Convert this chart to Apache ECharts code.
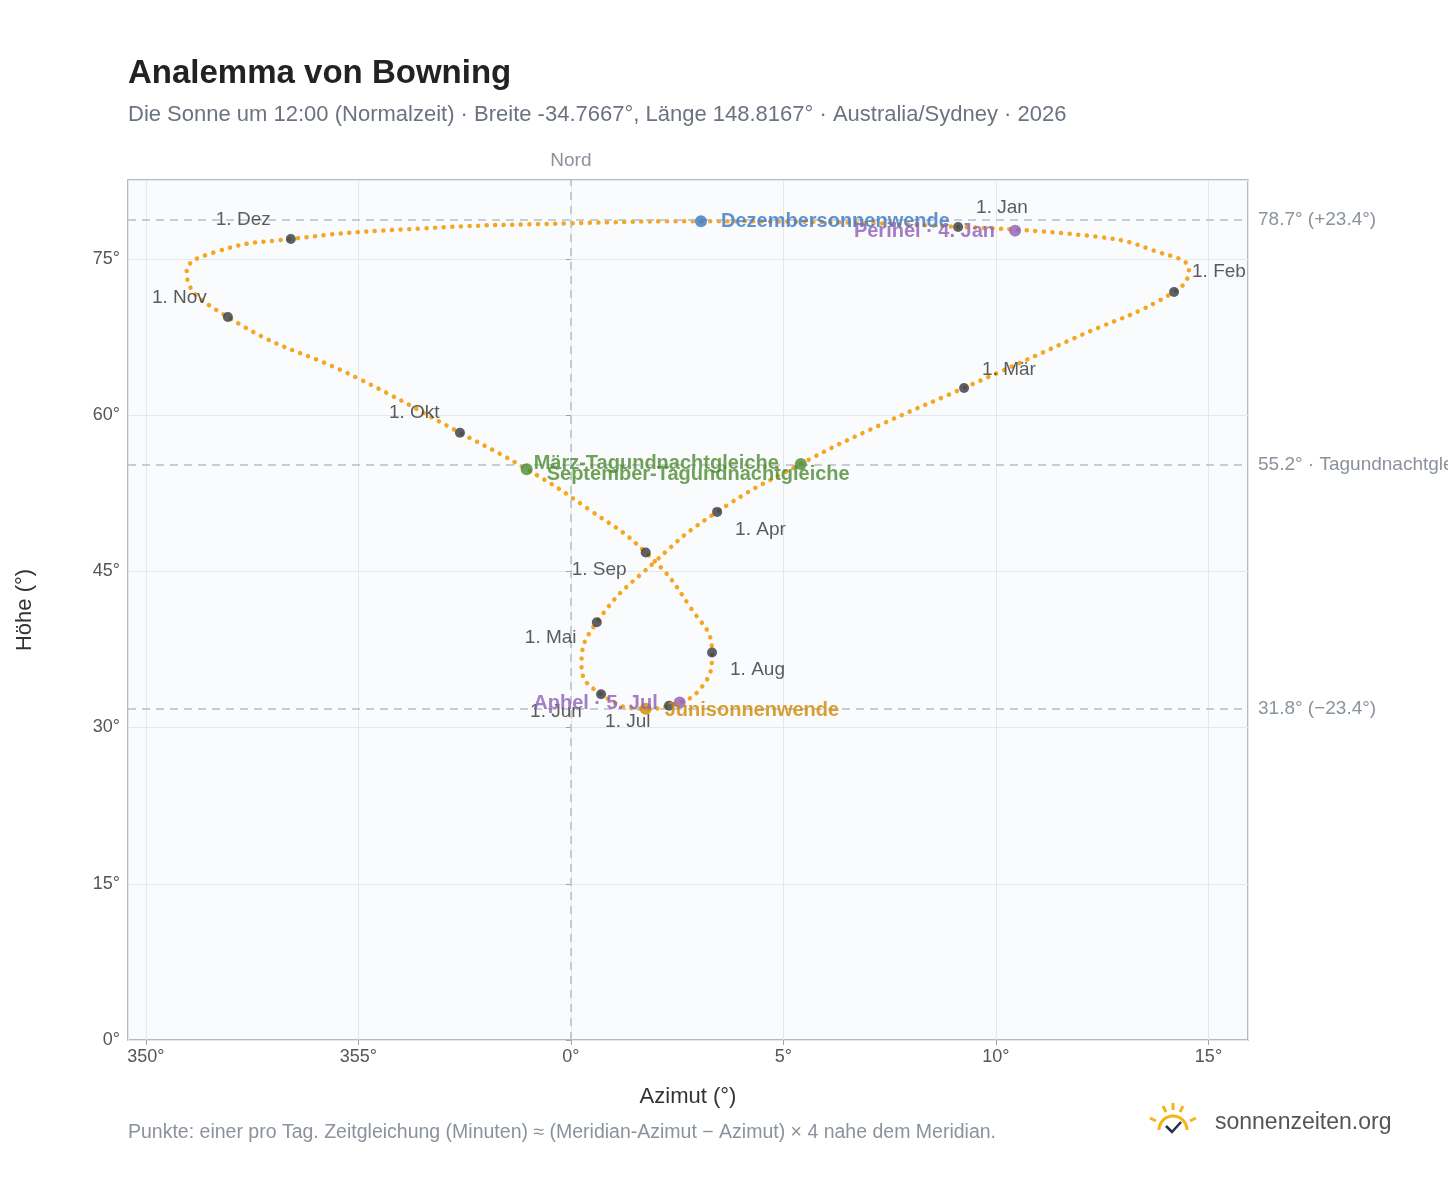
<!DOCTYPE html>
<html lang="de">
<head>
<meta charset="UTF-8">
<title>Analemma von Bowning</title>
<script src="https://cdn.jsdelivr.net/npm/echarts@6/dist/echarts.min.js"></script>
<style>
  html, body { margin: 0; padding: 0; background: #fff; }
  #chart { width: 1448px; height: 1188px; }
</style>
</head>
<body>
<div id="chart"></div>
<script>
// Azimut relativ zu Nord (negativ = westlich von 360°), Höhe in Grad
var pathAz  = [9.11, 12.4, 13.7, 14.54, 14.19, 11.8, 9.25, 7.2, 5.41, 3.44, 2.0, 0.61, 0.25, 0.71, 1.76, 2.31, 3.1, 3.32, 2.8, 1.76, 0.4, -1.04, -2.61, -5.0, -8.07, -9.04, -8.4, -6.59, -3.55, 0.0, 3.06, 6.2, 9.11];
var pathAlt = [78.05, 77.1, 75.8, 73.9, 71.8, 67.3, 62.6, 58.9, 55.3, 50.7, 46.0, 40.1, 36.0, 33.2, 31.8, 32.1, 34.0, 37.2, 41.6, 46.8, 51.0, 54.8, 58.3, 63.5, 69.4, 73.7, 75.6, 76.9, 77.9, 78.4, 78.6, 78.5, 78.05];

var monthNames = ['1. Jan', '1. Feb', '1. Mär', '1. Apr', '1. Mai', '1. Jun', '1. Jul', '1. Aug', '1. Sep', '1. Okt', '1. Nov', '1. Dez'];
var monthAz  = [9.11, 14.19, 9.25, 3.44, 0.61, 0.71, 2.31, 3.32, 1.76, -2.61, -8.07, -6.59];
var monthAlt = [78.05, 71.8, 62.6, 50.7, 40.1, 33.2, 32.1, 37.2, 46.8, 58.3, 69.4, 76.9];
var monthPos = [[23, -24], [23, -25], [23, -23], [23, 13], [-67, 11], [-66, 13], [-59, 12], [23, 13], [-69, 13], [-66, -24], [-71, -24], [-70, -24]];

var eventNames = ['Dezembersonnenwende', 'Perihel · 4. Jan', 'März-Tagundnachtgleiche', 'September-Tagundnachtgleiche', 'Junisonnenwende', 'Aphel · 5. Jul'];
var eventAz  = [3.06, 10.45, 5.41, -1.04, 1.76, 2.56];
var eventAlt = [78.6, 77.7, 55.3, 54.8, 31.8, 32.4];
var eventColors = ['#3a78c3', '#8e5fb5', '#4d8b31', '#4d8b31', '#d08a00', '#8e5fb5'];
var eventLabelPos = ['right', 'left', 'left', 'right', 'right', 'left'];
var eventLabelDist = [14, 14, 16, 14, 13, 16];
var eventLabelDy = [0, 1, 0, 5, 2, 1];

var refLines = [78.7, 55.2, 31.8];
var refLabels = ['78.7° (+23.4°)', '55.2° · Tagundnachtgleiche', '31.8° (−23.4°)'];

var chart = echarts.init(document.getElementById('chart'));
var font = 'Liberation Sans, Arial, sans-serif';

function azLabel(v) {
  var a = Math.round(v);
  a = ((a % 360) + 360) % 360;
  return a + '°';
}

var pathData = pathAz.map(function (x, i) { return [x, pathAlt[i]]; });
var monthData = monthAz.map(function (x, i) {
  return { value: [x, monthAlt[i]], name: monthNames[i],
    label: { show: true, formatter: monthNames[i], position: monthPos[i] } };
});
var eventData = eventAz.map(function (x, i) {
  return { value: [x, eventAlt[i]], name: eventNames[i],
    itemStyle: { color: eventColors[i] },
    label: { show: true, formatter: eventNames[i], position: eventLabelPos[i], distance: eventLabelDist[i],
      color: eventColors[i], fontWeight: 'bold', fontSize: 20, offset: [0, eventLabelDy[i]] } };
});
var refMarks = refLines.map(function (y, i) {
  return { yAxis: y, label: { formatter: refLabels[i] } };
});
refMarks.push({ xAxis: 0, label: { formatter: 'Nord', position: 'end', distance: 10 } });

chart.setOption({
  animation: false,
  textStyle: { fontFamily: font },
  title: {
    text: 'Analemma von Bowning',
    subtext: 'Die Sonne um 12:00 (Normalzeit) · Breite -34.7667°, Länge 148.8167° · Australia/Sydney · 2026',
    left: 123, top: 52, itemGap: 14,
    textStyle: { fontSize: 33, fontWeight: 'bold', color: '#222' },
    subtextStyle: { fontSize: 22, color: '#6b7380' }
  },
  grid: { left: 128, right: 200, top: 180, bottom: 148, show: true, backgroundColor: '#f9fbfd', borderColor: '#9aa5b1', borderWidth: 1.5 },
  xAxis: {
    type: 'value', min: -10.42, max: 15.93, splitNumber: 6,
    name: 'Azimut (°)', nameLocation: 'middle', nameGap: 46,
    nameTextStyle: { fontSize: 22, color: '#333' },
    axisLine: { show: false }, axisTick: { show: true, lineStyle: { color: '#9aa5b1' } },
    axisLabel: { formatter: azLabel, fontSize: 18, color: '#555', showMinLabel: false, showMaxLabel: false },
    splitLine: { lineStyle: { color: '#e3e8ee' } }
  },
  yAxis: {
    type: 'value', min: 0, max: 82.56, interval: 15,
    name: 'Höhe (°)', nameLocation: 'middle', nameGap: 92,
    nameTextStyle: { fontSize: 22, color: '#333' },
    axisLine: { show: false }, axisTick: { show: true, lineStyle: { color: '#9aa5b1' } },
    axisLabel: { formatter: '{value}°', fontSize: 18, color: '#555', showMaxLabel: false },
    splitLine: { lineStyle: { color: '#e3e8ee' } }
  },
  series: [
    {
      type: 'line', data: pathData, smooth: 0.5, symbol: 'none', z: 3,
      lineStyle: { color: '#f5a623', width: 4.5, type: [0.1, 8.5], cap: 'round' },
      markLine: {
        silent: true, symbol: 'none',
        lineStyle: { color: '#b8bec6', type: [8, 6], width: 1.5 },
        label: { position: 'end', color: '#8a929c', fontSize: 19, distance: 10 },
        data: refMarks
      }
    },
    {
      type: 'scatter', data: monthData, symbolSize: 10, z: 5,
      itemStyle: { color: '#343a42' },
      label: { color: '#333', fontSize: 19 }
    },
    {
      type: 'scatter', data: eventData, symbolSize: 12, z: 6
    }
  ],
  graphic: [
    { type: 'text', left: 128, top: 1123, style: { text: 'Punkte: einer pro Tag. Zeitgleichung (Minuten) ≈ (Meridian-Azimut − Azimut) × 4 nahe dem Meridian.', fontSize: 19.5, fill: '#8a929c', fontFamily: font } },
    { type: 'text', left: 1215, top: 1111, style: { text: 'sonnenzeiten.org', fontSize: 23, fill: '#555', fontFamily: font } },
    { type: 'arc', shape: { cx: 1173, cy: 1130, r: 14, startAngle: Math.PI, endAngle: 2 * Math.PI }, style: { stroke: '#f5b417', lineWidth: 3, fill: null } },
    { type: 'polyline', shape: { points: [[1166, 1126], [1172, 1132], [1181, 1122]] }, style: { stroke: '#223044', lineWidth: 2.5, fill: null } },
    { type: 'line', shape: { x1: 1150, y1: 1118, x2: 1156, y2: 1121 }, style: { stroke: '#f5b417', lineWidth: 3 } },
    { type: 'line', shape: { x1: 1163, y1: 1106, x2: 1166, y2: 1112 }, style: { stroke: '#f5b417', lineWidth: 3 } },
    { type: 'line', shape: { x1: 1173, y1: 1103, x2: 1173, y2: 1110 }, style: { stroke: '#f5b417', lineWidth: 3 } },
    { type: 'line', shape: { x1: 1183, y1: 1106, x2: 1180, y2: 1112 }, style: { stroke: '#f5b417', lineWidth: 3 } },
    { type: 'line', shape: { x1: 1196, y1: 1118, x2: 1190, y2: 1121 }, style: { stroke: '#f5b417', lineWidth: 3 } }
  ]
});
</script>
</body>
</html>
